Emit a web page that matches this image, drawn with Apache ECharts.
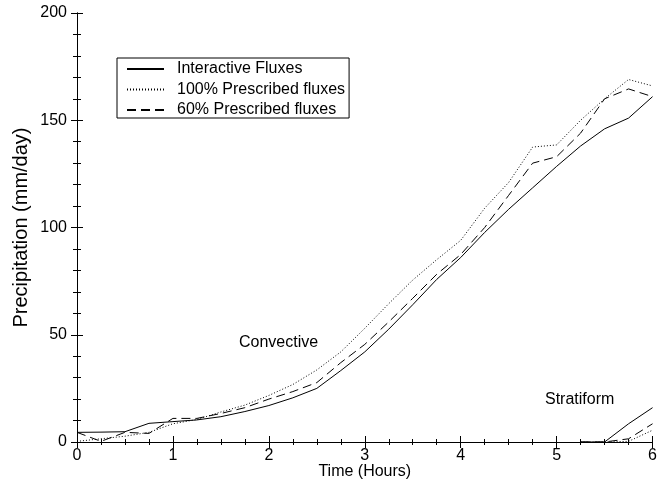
<!DOCTYPE html>
<html>
<head>
<meta charset="utf-8">
<script src="https://cdn.jsdelivr.net/npm/echarts@6/dist/echarts.min.js"></script>
<style>
  html, body { margin: 0; padding: 0; background: #fff; }
  #chart { width: 660px; height: 490px; }
</style>
</head>
<body>
<div id="chart"></div>
<script>
// Time axis (hours) for the convective curves
const hours = [0, 0.25, 0.5, 0.75, 1, 1.25, 1.5, 1.75, 2, 2.25, 2.5, 2.75, 3,
               3.25, 3.5, 3.75, 4, 4.25, 4.5, 4.75, 5, 5.25, 5.5, 5.75, 6];
// Convective precipitation (mm/day)
const interactiveConv = [4.5, 4.6, 4.8, 8.7, 9.5, 10.3, 11.8, 14.2, 17, 20.6, 25, 33.3, 42,
                         52.6, 64, 75.8, 86, 97.7, 108.5, 118.5, 128.5, 138, 146, 151, 161];
const pres100Conv = [0.3, 1.5, 2.7, 4.5, 8.5, 10.5, 14, 17.2, 21.7, 26.8, 33.6, 42, 53,
                     64.5, 75.5, 85, 94, 109, 121, 137.5, 138.5, 150, 160, 169, 166];
const pres60Conv = [4.5, 0.3, 4.5, 4, 11, 11, 13.3, 16, 20, 23.5, 27.7, 37, 45.5,
                    56, 67, 78.2, 87.4, 100, 115, 130, 133, 144, 160, 164.6, 161];
// Stratiform precipitation (mm/day)
const stratHours = [5.25, 5.5, 5.75, 6];
const interactiveStrat = [0, 0, 8.5, 16];
const pres100Strat = [0, 0, 0.3, 5.5];
const pres60Strat = [0, 0, 1.5, 8.5];
// Axis ticks
const xTicks = { min: 0, max: 6, interval: 1 };
const yTicks = { min: 0, max: 200, interval: 50 };
const seriesNames = ['Interactive Fluxes', '100% Prescribed fluxes', '60% Prescribed fluxes'];

function pairs(xs, ys) { return xs.map((x, i) => [x, ys[i]]); }

const FONT = 'Liberation Sans, Arial, Helvetica, sans-serif';
const styles = [
  { type: 'solid', width: 1 },
  { type: [1, 2], width: 1 },
  { type: [9, 5], width: 1 }
];

function mkSeries(name, data, st) {
  return {
    name: name, type: 'line', data: data, symbol: 'none', showSymbol: false,
    lineStyle: { color: '#000', width: st.width, type: st.type },
    itemStyle: { color: '#000' },
    animation: false, silent: true
  };
}

const chart = echarts.init(document.getElementById('chart'), null, { renderer: 'canvas' });

const axisCommon = {
  axisLine: { show: true, lineStyle: { color: '#000', width: 1 } },
  splitLine: { show: false }
};

chart.setOption({
  animation: false,
  backgroundColor: '#fff',
  grid: { left: 77, right: 3, top: 13, bottom: 48, containLabel: false },
  legend: {
    data: seriesNames,
    orient: 'vertical',
    left: 117, top: 58,
    itemWidth: 37, itemHeight: 14, itemGap: 4.5,
    padding: [3, 4, 0, 9],
    borderColor: '#000', borderWidth: 1,
    backgroundColor: '#fff',
    selectedMode: false,
    itemStyle: { opacity: 0 },
    textStyle: { fontFamily: FONT, fontSize: 16, color: '#000', padding: [0, 0, 0, 8] }
  },
  xAxis: [
    Object.assign({}, axisCommon, {
      type: 'value', min: xTicks.min, max: xTicks.max, interval: xTicks.interval,
      name: 'Time (Hours)', nameLocation: 'middle', nameGap: 22, nameMoveOverlap: false,
      nameTextStyle: { fontFamily: FONT, fontSize: 16, color: '#000' },
      axisTick: { show: true, inside: true, length: 6, lineStyle: { color: '#000' } },
      minorTick: { show: true, splitNumber: 4, length: 3, lineStyle: { color: '#000' } },
      axisLabel: { fontFamily: FONT, fontSize: 16, color: '#000', margin: 6 }
    }),
    Object.assign({}, axisCommon, {
      type: 'value', position: 'top', min: xTicks.min, max: xTicks.max, interval: xTicks.interval,
      axisTick: { show: true, inside: true, length: 6, lineStyle: { color: '#000' } },
      minorTick: { show: true, splitNumber: 4, length: 3, lineStyle: { color: '#000' } },
      axisLabel: { show: false }
    })
  ],
  yAxis: [
    Object.assign({}, axisCommon, {
      type: 'value', min: yTicks.min, max: yTicks.max, interval: yTicks.interval,
      name: 'Precipitation (mm/day)', nameLocation: 'middle', nameGap: 46, nameRotate: 90,
      nameMoveOverlap: false,
      nameTextStyle: { fontFamily: FONT, fontSize: 20, color: '#000' },
      axisTick: { show: true, inside: true, length: 6, lineStyle: { color: '#000' } },
      minorTick: { show: true, splitNumber: 5, length: 4, lineStyle: { color: '#000' } },
      axisLabel: { fontFamily: FONT, fontSize: 16, color: '#000', margin: 10 }
    }),
    Object.assign({}, axisCommon, {
      type: 'value', position: 'right', min: yTicks.min, max: yTicks.max, interval: yTicks.interval,
      axisTick: { show: true, inside: true, length: 6, lineStyle: { color: '#000' } },
      minorTick: { show: true, splitNumber: 5, length: 4, lineStyle: { color: '#000' } },
      axisLabel: { show: false }
    })
  ],
  graphic: [
    { type: 'text', left: 239, top: 335, silent: true,
      style: { text: 'Convective', font: '16px ' + FONT, fill: '#000' } },
    { type: 'text', left: 545, top: 392, silent: true,
      style: { text: 'Stratiform', font: '16px ' + FONT, fill: '#000' } }
  ],
  series: [
    mkSeries(seriesNames[0], pairs(hours, interactiveConv), styles[0]),
    mkSeries(seriesNames[1], pairs(hours, pres100Conv), styles[1]),
    mkSeries(seriesNames[2], pairs(hours, pres60Conv), styles[2]),
    mkSeries(seriesNames[0], pairs(stratHours, interactiveStrat), styles[0]),
    mkSeries(seriesNames[1], pairs(stratHours, pres100Strat), styles[1]),
    mkSeries(seriesNames[2], pairs(stratHours, pres60Strat), styles[2])
  ]
});
</script>
</body>
</html>
